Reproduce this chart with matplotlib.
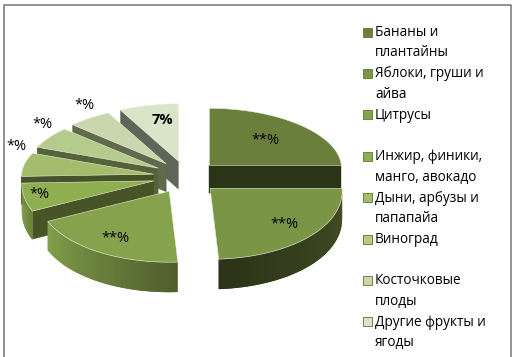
import matplotlib
matplotlib.use("Agg")
import matplotlib.pyplot as plt
import numpy as np
from matplotlib.colors import to_rgb

plt.rcParams["font.family"] = ["Open Sans", "DejaVu Sans"]

# Shares, % (most labels are hidden as "*%" in the original)
categories = [
    "Бананы и\nплантайны",
    "Яблоки, груши и\nайва",
    "Цитрусы",
    "Инжир, финики,\nманго, авокадо",
    "Дыни, арбузы и\nпапапайа",
    "Виноград",
    "Косточковые\nплоды",
    "Другие фрукты и\nягоды",
]
shares = [25, 24, 19, 6.5, 6.5, 6, 5.5, 7.5]
labels = ["**%", "**%", "**%", "*%", "*%", "*%", "*%", "7%"]

top_colors = ["#6b7f3c", "#7a9545", "#86a24c", "#8fae4f", "#a3bd6c", "#b5ca8d", "#c8d8ac", "#d9e4c8"]
wall_light = ["#2d3518", "#2c3318", "#82a04b", "#7f9a45", "#4a5a28", "#4a5a28", "#4a5a28", "#4a5a28"]
wall_dark = ["#2d3518", "#434f25", "#4f5f2c", "#6a8238", "#4a5a28", "#4a5a28", "#4a5a28", "#4a5a28"]
side_colors = ["#2c3417", "#2d3518", "#4a5a28", "#465426", "#45522a", "#55633a", "#5f6b4c", "#5f6658"]
edge_color = "#e8efd8"
frame_color = "#7f7f7f"

# pie geometry in pixels
cx, cy = 186, 177
rx, ry_back, ry_front = 132, 57, 71
burst_x, burst_y = 33, 16.5
depth = 28

fig = plt.figure(figsize=(5.13, 3.57), dpi=100)
ax = fig.add_axes([0, 0, 1, 1])
ax.set_xlim(0, 513)
ax.set_ylim(357, 0)
ax.axis("off")

ax.plot([3.5, 3.5, 510.5, 510.5], [357, 4.5, 4.5, 357], color=frame_color, lw=1.2)


def apex(mid):
    return cx + burst_x * np.sin(mid), cy - burst_y * np.cos(mid)


def rim(a, t):
    u, v = np.sin(t), -np.cos(t)
    x = a[0] + rx * u * (1 + 0.04 * v)
    y = a[1] + np.where(v < 0, ry_back, ry_front) * v
    return x, y


def draw_slice(i, t0, t1):
    mid = (t0 + t1) / 2
    a = apex(mid)
    t = np.linspace(t0, t1, 80)
    x, y = rim(a, t)

    # radial walls
    if t0 > np.pi:
        ex, ey = rim(a, t0)
        ax.fill([a[0], ex, ex, a[0]], [a[1], ey, ey + depth, a[1] + depth],
                color=side_colors[i], lw=0.3)
    if t1 < np.radians(170):
        ex, ey = rim(a, t1)
        ax.fill([a[0], ex, ex, a[0]], [a[1], ey, ey + depth, a[1] + depth],
                color=side_colors[i], lw=0.3)

    # outer wall as thin strips, shaded from one end to the other
    lo, hi = max(t0, np.pi / 2), min(t1, 3 * np.pi / 2)
    if hi > lo:
        c0, c1 = np.array(to_rgb(wall_dark[i])), np.array(to_rgb(wall_light[i]))
        ts = np.linspace(lo, hi, 41)
        xs, ys = rim(a, ts)
        ds = depth - 2 * np.cos(ts)
        # each strip overlaps the next one so no seams show
        for k in range(40):
            f = k / 39
            n = min(k + 2, 40)
            ax.fill([xs[k], xs[n], xs[n], xs[k]],
                    [ys[k], ys[n], ys[n] + ds[n], ys[k] + ds[k]],
                    color=c0 + (c1 - c0) * f, lw=0)

    ax.fill(np.r_[a[0], x], np.r_[a[1], y], facecolor=top_colors[i],
            edgecolor=edge_color, lw=0.4)


bounds = np.radians(np.cumsum([0] + shares) * 360 / sum(shares))

# painter's order: back slices first
for i in [7, 6, 0, 5, 4, 3, 2, 1]:
    draw_slice(i, bounds[i], bounds[i + 1])

# data labels
label_r = [0.62, 0.75, 0.77, 0.88, 1.06, 1.06, 1.06, 0.55]
label_dy = [0, 0, 0, -1, -17, -11, -10, -10]
for i in range(8):
    mid = (bounds[i] + bounds[i + 1]) / 2
    a = apex(mid)
    lx, ly = rim(a, mid)
    tx = a[0] + (lx - a[0]) * label_r[i]
    ty = a[1] + (ly - a[1]) * label_r[i] + label_dy[i]
    ax.text(tx, ty, labels[i], ha="center", va="center", fontsize=10.5,
            color="#000000", fontweight="bold" if labels[i] == "7%" else "normal", zorder=30)

# legend
for i, name in enumerate(categories):
    y = 32 + 41.4 * i
    ax.add_patch(plt.Rectangle((363.3, y - 4.5), 9, 9, facecolor=top_colors[i], edgecolor="#5f7336", lw=0.6))
    ax.text(375, y - 7, name, ha="left", va="top", fontsize=9.8, color="#000000", linespacing=1.5)

fig.savefig("out.png", dpi=100)
